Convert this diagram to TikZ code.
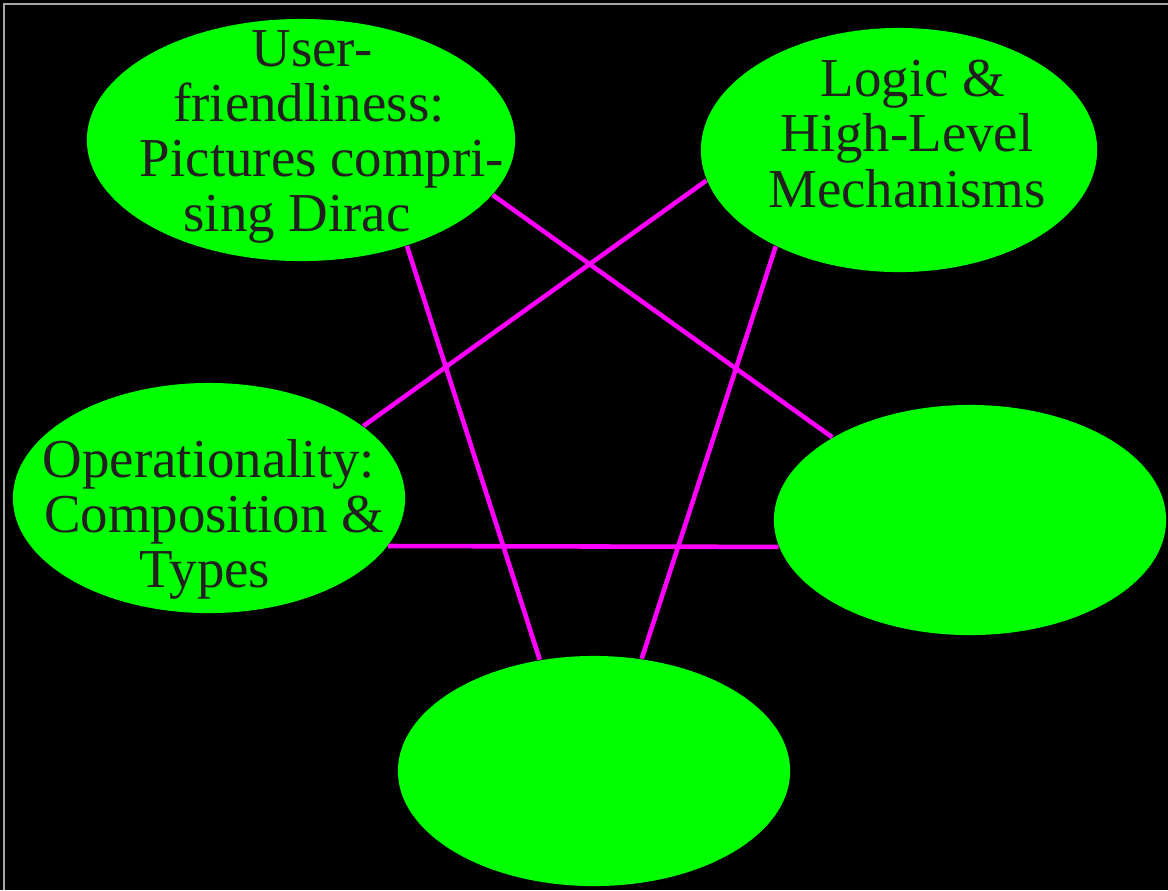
\documentclass[tikz,border=0pt]{standalone}
\usepackage{fontspec}
\setmainfont{Liberation Serif}
\usetikzlibrary{shapes.geometric}
\definecolor{blobgreen}{RGB}{0,255,0}
\definecolor{wiremag}{RGB}{255,0,255}
\definecolor{inkgray}{RGB}{35,31,32}
\begin{document}
\begin{tikzpicture}[x=0.01cm, y=-0.01cm,
    blob/.style={ellipse, fill=blobgreen, inner sep=0pt, minimum width=3.92cm, minimum height=2.30cm},
    lbl/.style={align=center, text=inkgray, inner sep=0pt, font=\fontsize{15.6}{15.65}\selectfont},
    wire/.style={wiremag, line width=1.3pt}]
  \useasboundingbox (0,0) rectangle (1168,890);
  \fill[black] (0,0) rectangle (1168,890);
  \draw[gray!70, line width=0.3pt] (4,890) -- (4,4) -- (1168,4);
  % the five ellipses
  \node[blob, minimum width=4.28cm, minimum height=2.42cm] (usr) at (301,140) {};
  \node[blob, minimum width=3.96cm, minimum height=2.44cm] (lgc) at (899,150) {};
  \node[blob] (opr) at (209,498) {};
  \node[blob] (rgt) at (970,520) {};
  \node[blob] (bot) at (594,771) {};
  \node[lbl] (usrtxt) at (309,137) {\hspace*{0.6mm}User-\\friendliness:\hspace*{1.2mm}\\\hspace*{2.6mm}Pictures compri-\\sing Dirac\hspace*{2.4mm}};
  \node[lbl] (lgctxt) at (907,134) {\hspace*{1.2mm}Logic \&\\High-Level\\Mechanisms};
  \node[lbl] (oprtxt) at (209,519) {Operationality:\\\hspace*{1mm}Composition \&\\Types\hspace*{0.8mm}};
  % pentagram
  \foreach \a/\b in {usr.-16/rgt.149, usr.-45/bot.116, lgc.-171/opr.25, lgc.-142/bot.67, opr.-15/rgt.-172.4}
    \draw[wire] (\a) -- (\b);
\end{tikzpicture}
\end{document}
